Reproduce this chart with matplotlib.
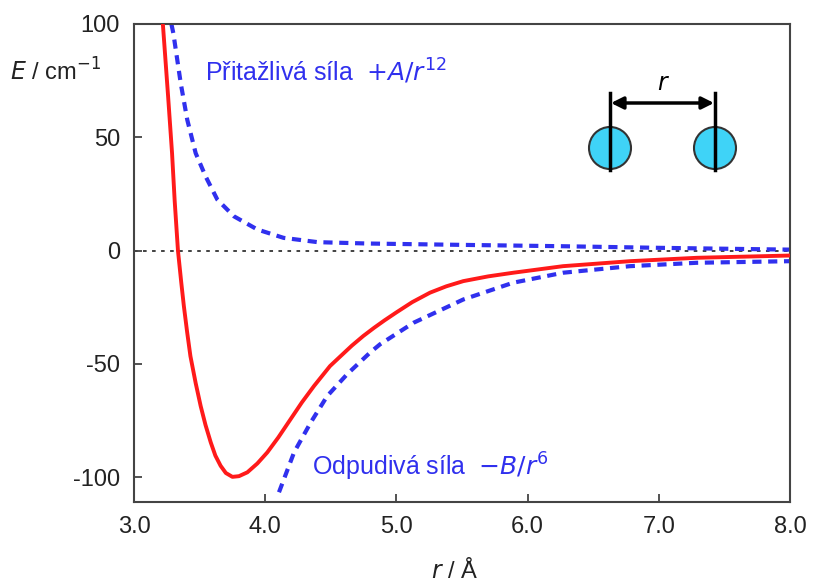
import numpy as np
import matplotlib.pyplot as plt
from matplotlib.patches import Circle

plt.rcParams['font.family'] = ['Liberation Sans', 'DejaVu Sans']

# total potential (red)
r_tot = [3.22, 3.26, 3.29, 3.31, 3.335, 3.36, 3.38, 3.405, 3.43, 3.47, 3.508, 3.545, 3.585, 3.62, 3.66, 3.70,
         3.75, 3.80, 3.864, 3.94, 4.016, 4.10, 4.194, 4.28, 4.372, 4.494, 4.575, 4.66, 4.748, 4.83, 4.91, 5.0,
         5.12, 5.256, 5.38, 5.51, 5.70, 5.89, 6.27, 6.78, 7.29, 8.0]
E_tot = [100, 68, 43, 22, 0, -14, -24.5, -36, -46.6, -58.5, -68.6, -77, -84.7, -90.5, -95, -98.2,
         -99.9, -99.6, -97.9, -94, -89.1, -82.5, -74.4, -67, -59.8, -51, -46.6, -42, -37.7, -34.1, -30.8, -27.3,
         -22.8, -18.6, -15.8, -13.5, -11.4, -9.8, -6.9, -4.7, -3.2, -2.2]

# repulsive term +A/r^12 (upper dashed)
r_rep = [3.285, 3.30, 3.356, 3.406, 3.47, 3.546, 3.635, 3.762, 3.94, 4.14, 4.40, 4.78, 5.5, 6.27, 7.0, 8.0]
E_rep = [100, 95.9, 73.9, 57.7, 43, 32.7, 22.5, 15.1, 9.3, 5.6, 3.7, 3.1, 2.5, 1.9, 1.2, 0.4]

# attractive term -B/r^6 (lower dashed)
r_att = [4.105, 4.22, 4.347, 4.473, 4.626, 4.80, 4.875, 5.13, 5.51, 5.89, 6.27, 6.78, 7.29, 8.0]
E_att = [-106.7, -89.1, -75.9, -64.2, -54.5, -45, -41.4, -31.9, -21.6, -14.2, -9.8, -6.9, -5.4, -4.7]

fig = plt.figure(figsize=(8.13, 5.84), dpi=100)
ax = fig.add_axes([134/813, 1-502/584, 656/813, 478/584])

blue = '#3030ee'
ax.axhline(0, color='#333333', lw=1.3, ls=(0, (2, 3)), zorder=1)
ax.plot(r_rep, E_rep, color=blue, lw=3, ls=(0, (2.2, 1.6)), zorder=2)
ax.plot(r_att, E_att, color=blue, lw=3, ls=(0, (2.2, 1.6)), zorder=2)
ax.plot(r_tot, E_tot, color='#ff1a1a', lw=2.8, zorder=3, solid_joinstyle='round')

ax.set_xlim(3.0, 8.0)
ax.set_ylim(-111, 100)
ax.set_xticks([3, 4, 5, 6, 7, 8])
ax.set_xticklabels(['3.0', '4.0', '5.0', '6.0', '7.0', '8.0'])
ax.set_yticks([100, 50, 0, -50, -100])
ax.set_yticklabels(['100', '50', '0', '-50', '-100'])
ax.tick_params(direction='in', length=6, width=1.3, labelsize=17, pad=10, color='#444444',
               labelcolor='#222222')
for s in ax.spines.values():
    s.set_color('#444444')
    s.set_linewidth(1.5)

ax.text(3.54, 79, 'Přitažlivá síla  $+A/r^{12}$', color=blue, fontsize=18,
        va='center', math_fontfamily='dejavusans')
ax.text(4.36, -95.5, 'Odpudivá síla  $-B/r^{6}$', color=blue, fontsize=18,
        va='center', math_fontfamily='dejavusans')

fig.text(10/813, 1-72/584, '$E$ / cm$^{-1}$', fontsize=17, va='center', ha='left',
         math_fontfamily='dejavusans', color='#222222')
fig.text(455/813, 1-570/584, '$r$ / Å', fontsize=17, va='center', ha='center',
         math_fontfamily='dejavusans', color='#222222')

# molecule sketch
ins = fig.add_axes([580/813, 1-180/584, 165/813, 110/584])
ins.set_xlim(580, 745)
ins.set_ylim(180, 70)
ins.axis('off')
for cx in [610, 715]:
    ins.add_patch(Circle((cx, 148), 21, facecolor='#3fd3f7', edgecolor='#333333', lw=1.5))
    ins.plot([cx, cx], [93, 170], color='black', lw=2.5)
ins.annotate('', xy=(714, 103), xytext=(611, 103),
             arrowprops=dict(arrowstyle='<|-|>', color='black', lw=2.5, mutation_scale=18,
                             shrinkA=0, shrinkB=0))
ins.text(663, 84, '$r$', fontsize=17, ha='center', va='center', math_fontfamily='dejavusans')

fig.savefig('out.png', dpi=100)
